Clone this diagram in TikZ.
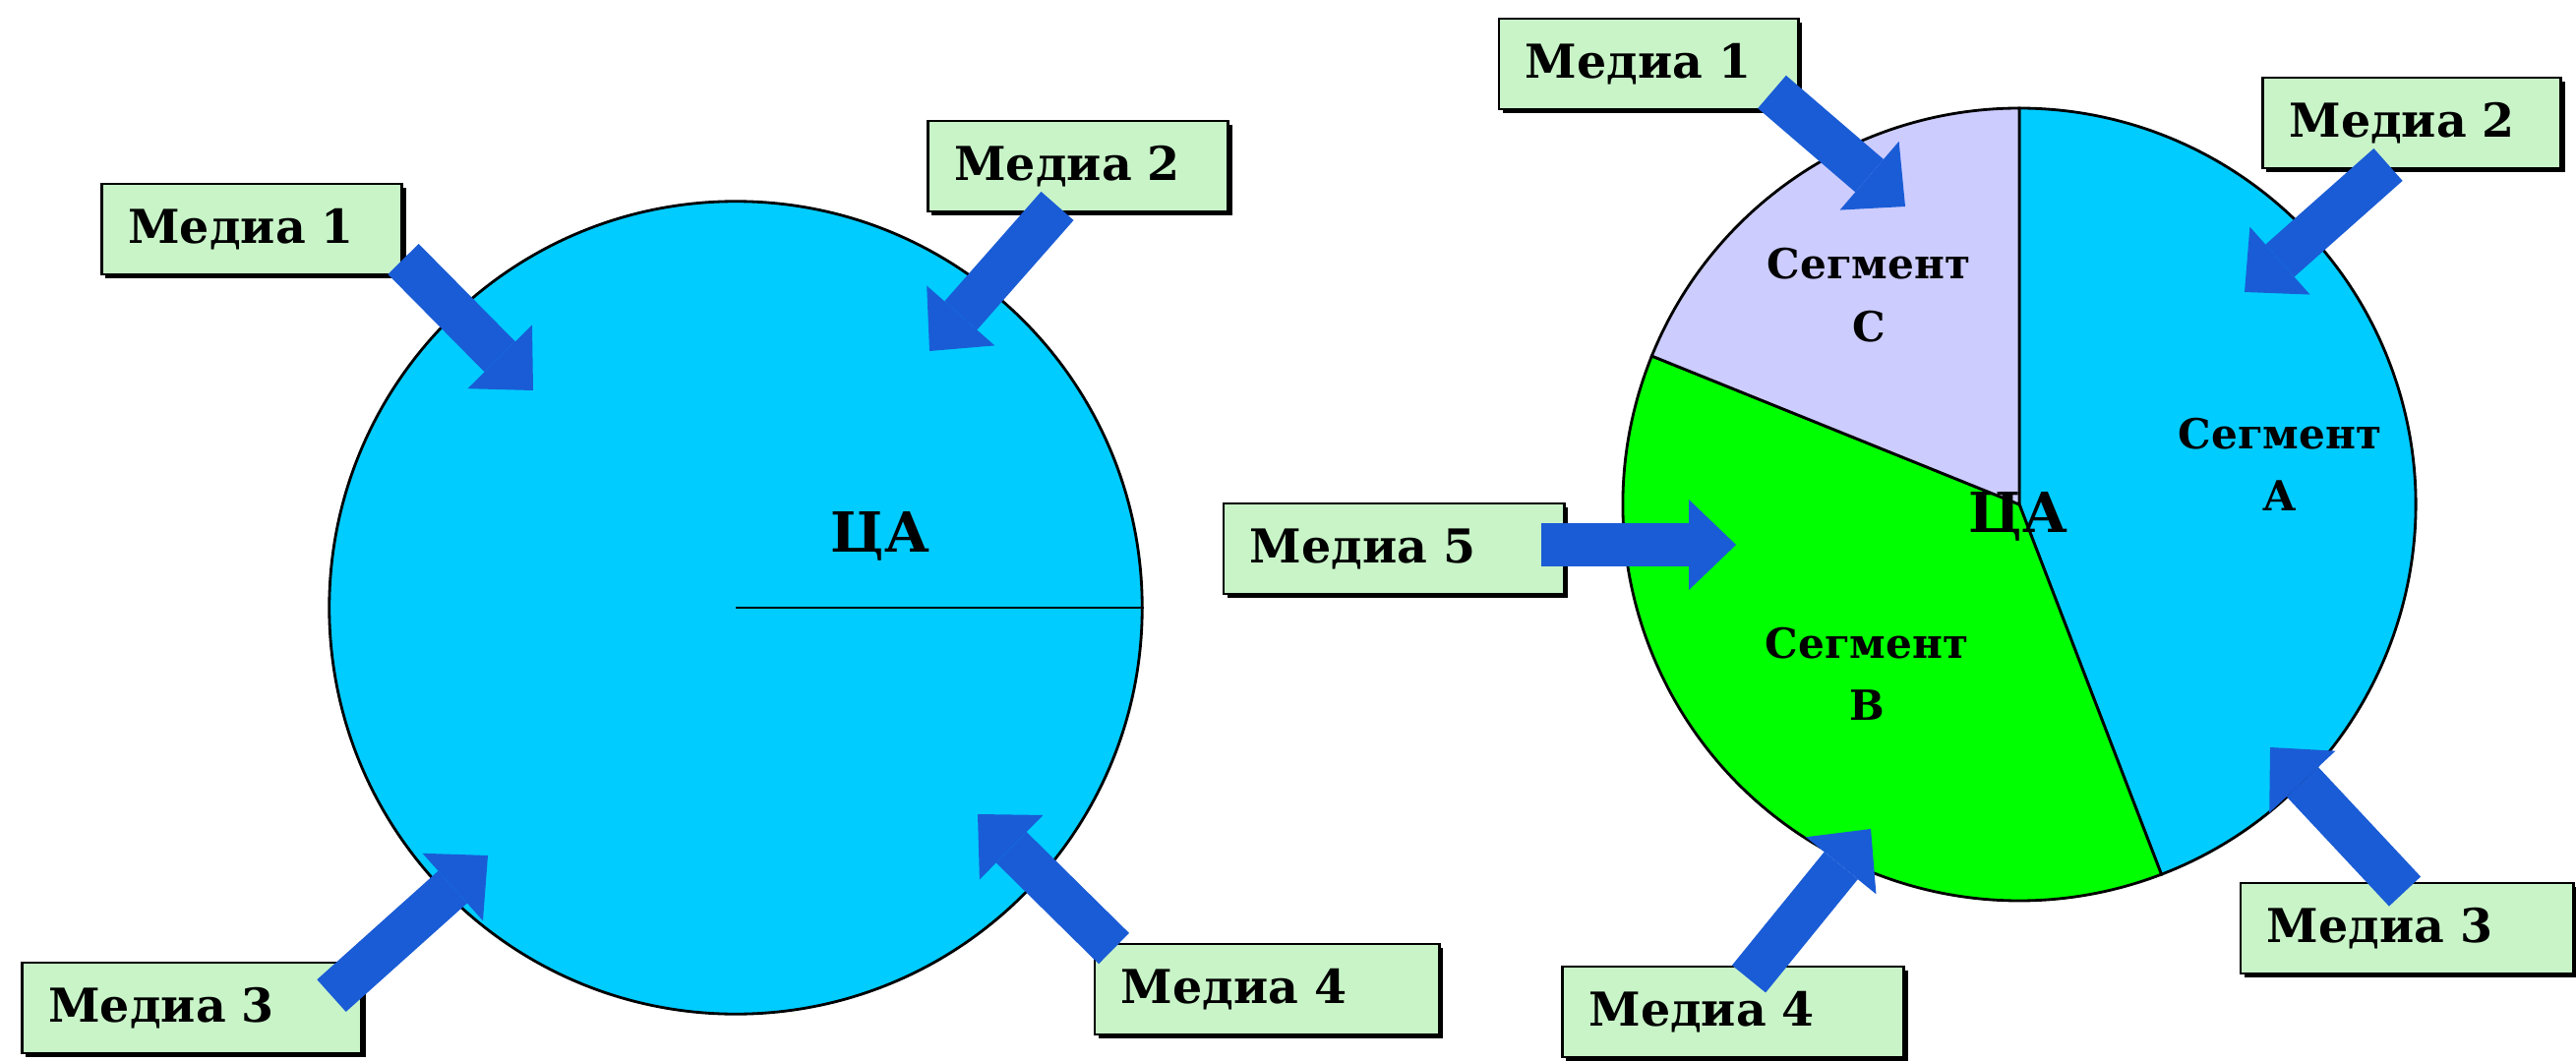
\documentclass[tikz,border=0pt]{standalone}
\usepackage{fontspec}
\setmainfont{DejaVu Serif}
\usetikzlibrary{arrows.meta, shadows, calc}
\definecolor{cablue}{RGB}{0,204,255}
\definecolor{segB}{RGB}{0,255,0}
\definecolor{segC}{RGB}{204,204,255}
\definecolor{boxgreen}{RGB}{200,244,200}
\definecolor{arrowblue}{RGB}{26,92,214}
\tikzstyle{rim} = [draw=black, line width=0.8pt]
\tikzstyle{medbox} = [draw=black, line width=0.8pt, fill=boxgreen, minimum height=0.92cm, inner xsep=0.27cm, align=left, font=\fontsize{13.5}{16}\selectfont\bfseries, drop shadow={shadow xshift=0.04cm, shadow yshift=-0.04cm, fill=black, opacity=1}]
\tikzstyle{segtext} = [align=center, font=\fontsize{12}{18}\selectfont\bfseries]
\tikzstyle{catext} = [font=\fontsize{16}{19}\selectfont\bfseries]
\tikzstyle{blockarrow} = [arrowblue, line width=0.44cm, -{Triangle[length=0.48cm, width=0.92cm, line width=0pt]}]

\begin{document}
\begin{tikzpicture}[x=0.01cm, y=0.01cm]
\useasboundingbox (0,0) rectangle (2619,1078);
\fill [white] (0,0) rectangle (2619,1078);

% Left audience circle
\node (lca) [circle, rim, fill=cablue, minimum size=8.26cm, inner sep=0pt] at (748,460) {};
\draw [rim] (lca.center) -- (lca.east);
\node (lcatext) [catext] at (895,533) {ЦА};

% Right audience pie
\coordinate (rca) at (2053,565);
\filldraw [rim, fill=cablue] (rca) -- ++(-69:403) arc (-69:90:403) -- cycle;
\filldraw [rim, fill=segB] (rca) -- ++(158:403) arc (158:291:403) -- cycle;
\filldraw [rim, fill=segC] (rca) -- ++(90:403) arc (90:158:403) -- cycle;
\node (sega) [segtext] at (2318,606) {Сегмент\\А};
\node (segb) [segtext] at (1898,393) {Сегмент\\В};
\node (segc) [segtext] at (1900,778) {Сегмент\\С};
\node (rcatext) [catext] at (2052,553) {ЦА};

% Media labels
\node (lm1) [medbox, text width=2.51cm] at (256,845) {Медиа 1};
\node (lm2) [medbox, text width=2.51cm] at (1096,909) {Медиа 2};
\node (lm3) [medbox, text width=2.91cm] at (195,53) {Медиа 3};
\node (lm4) [medbox, text width=2.96cm] at (1288,72) {Медиа 4};
\node (rm1) [medbox, text width=2.50cm] at (1676,1013) {Медиа 1};
\node (rm2) [medbox, text width=2.49cm] at (2452,953) {Медиа 2};
\node (rm3) [medbox, text width=2.84cm] at (2447,134) {Медиа 3};
\node (rm4) [medbox, text width=2.93cm] at (1762,49) {Медиа 4};
\node (rm5) [medbox, text width=2.92cm] at (1417,520) {Медиа 5};

% Arrow tips
\coordinate (lm1tip) at (542,681);
\coordinate (lm2tip) at (945,721);
\coordinate (lm3tip) at (496,208);
\coordinate (lm4tip) at (994,250);
\coordinate (rm1tip) at (1937,868);
\coordinate (rm2tip) at (2282,781);
\coordinate (rm3tip) at (2308,318);
\coordinate (rm4tip) at (1902,235);
\coordinate (rm5tip) at (1765,524);

% Arrows
\draw [blockarrow] ($(lm1.south east)+(0,17)$) -- (lm1tip);
\draw [blockarrow] ($(lm2.south)+(-21,7)$) -- (lm2tip);
\draw [blockarrow] ($(lm3.north east)+(-32,-35)$) -- (lm3tip);
\draw [blockarrow] ($(lm4.north west)+(21,-6)$) -- (lm4tip);
\draw [blockarrow] ($(rm1.south east)+(-28,19)$) -- (rm1tip);
\draw [blockarrow] ($(rm2.south)+(-24,5)$) -- (rm2tip);
\draw [blockarrow] ($(rm3.north)+(-2,-10)$) -- (rm3tip);
\draw [blockarrow] ($(rm4.north)+(16,-14)$) -- (rm4tip);
\draw [blockarrow] ($(rm5.east)+(-25,4)$) -- (rm5tip);

\end{tikzpicture}
\end{document}
